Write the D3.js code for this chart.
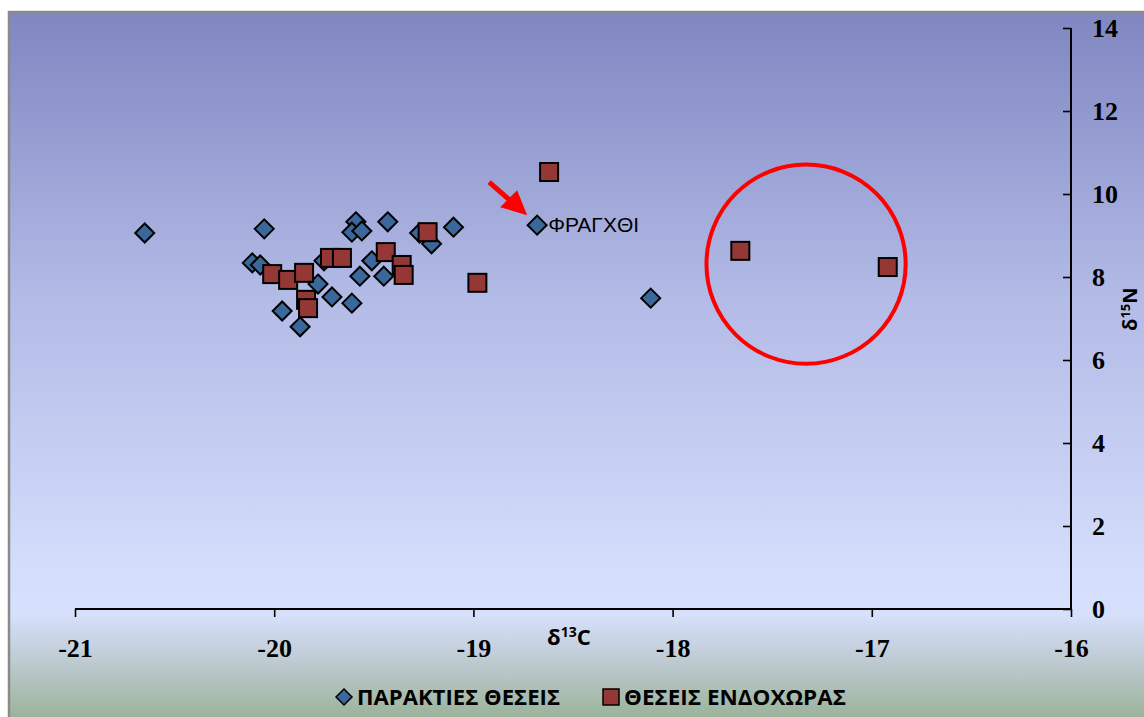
<!DOCTYPE html>
<html>
<head>
<meta charset="utf-8">
<script src="https://cdn.jsdelivr.net/npm/d3@7"></script>
<style>
  body { margin: 0; background: #fff; }
  svg { display: block; }
</style>
</head>
<body>
<div id="chart"></div>
<script>
// data: delta13C (x) and delta15N (y)
var coastalX = [-20.65, -20.05, -20.11, -20.07, -19.96, -19.87, -19.78, -19.75, -19.71, -19.61, -19.59,
                -19.61, -19.56, -19.57, -19.51, -19.45, -19.43, -19.27, -19.21, -19.10, -18.68, -18.11];
var coastalY = [9.06, 9.16, 8.34, 8.29, 7.18, 6.80, 7.83, 8.39, 7.52, 7.37, 9.33,
                9.08, 9.11, 8.02, 8.39, 8.02, 9.33, 9.06, 8.80, 9.20, 9.25, 7.49];
var inlandX = [-20.01, -19.93, -19.85, -19.84, -19.83, -19.72, -19.66, -19.44, -19.36, -19.35,
               -19.23, -18.98, -18.62, -17.66, -16.92];
var inlandY = [8.07, 7.93, 8.10, 7.45, 7.25, 8.46, 8.46, 8.60, 8.29, 8.05,
               9.08, 7.86, 10.53, 8.63, 8.24];
var xTicks = [-21, -20, -19, -18, -17, -16];
var yTicks = [0, 2, 4, 6, 8, 10, 12, 14];
var seriesNames = ["ΠΑΡΑΚΤΙΕΣ ΘΕΣΕΙΣ", "ΘΕΣΕΙΣ ΕΝΔΟΧΩΡΑΣ"];
var labelText = "ΦΡΑΓΧΘΙ";
var labelIndex = 20;          // the coastal point that gets the name + arrow
var circleCenter = [-17.33, 8.31];

var W = 1144, H = 717;
var margin = { top: 28, right: 73, bottom: 108, left: 75 };

var blue = "#3b689b", red = "#953735";

var svg = d3.select("#chart").append("svg")
    .attr("width", W)
    .attr("height", H);

// background gradient (chart area)
var defs = svg.append("defs");
var grad = defs.append("linearGradient")
    .attr("id", "bg").attr("x1", 0).attr("y1", 0).attr("x2", 0).attr("y2", 1);
grad.append("stop").attr("offset", "0").attr("stop-color", "#7f86c1");
grad.append("stop").attr("offset", "0.40").attr("stop-color", "#b2bae6");
grad.append("stop").attr("offset", "0.80").attr("stop-color", "#d5defc");
grad.append("stop").attr("offset", "0.855").attr("stop-color", "#d6e0fb");
grad.append("stop").attr("offset", "0.93").attr("stop-color", "#bac8cc");
grad.append("stop").attr("offset", "1").attr("stop-color", "#9bb39b");

svg.append("rect")
    .attr("x", 9).attr("y", 12)
    .attr("width", W - 9).attr("height", H - 12)
    .attr("fill", "url(#bg)");
svg.append("path")
    .attr("d", "M9," + H + "V12H" + W)
    .attr("fill", "none")
    .attr("stroke", "#8a8a8a")
    .attr("stroke-width", 2.5);

var x = d3.scaleLinear().domain([-21, -16]).range([margin.left, W - margin.right]);
var y = d3.scaleLinear().domain([0, 14]).range([H - margin.bottom, margin.top]);

// x axis
var xAxis = svg.append("g")
    .attr("transform", "translate(0," + y(0) + ")")
    .call(d3.axisBottom(x).tickValues(xTicks).tickSize(8).tickPadding(22).tickFormat(d3.format("d")));
xAxis.select(".domain").attr("d", "M" + x(-21) + ",0H" + x(-16)).attr("stroke-width", 2);
xAxis.selectAll(".tick line").attr("stroke-width", 1.6);
xAxis.selectAll("text")
    .text(function(d) { return String(d).replace("−", "-"); })
    .attr("font-family", "Liberation Serif, serif")
    .attr("font-weight", "bold")
    .attr("font-size", 26)
    .attr("fill", "#000");

// y axis on the right, ticks pointing left, labels outside
var yAxis = svg.append("g")
    .attr("transform", "translate(" + x(-16) + ",0)")
    .call(d3.axisLeft(y).tickValues(yTicks).tickSize(8).tickFormat(d3.format("d")));
yAxis.select(".domain").attr("d", "M0," + y(14) + "V" + y(0)).attr("stroke-width", 2);
yAxis.selectAll(".tick line").attr("stroke-width", 1.6);
yAxis.selectAll("text")
    .attr("x", 21)
    .attr("text-anchor", "start")
    .attr("font-family", "Liberation Serif, serif")
    .attr("font-weight", "bold")
    .attr("font-size", 26)
    .attr("fill", "#000");

// axis titles
var xTitle = svg.append("text")
    .attr("x", 547).attr("y", 645)
    .attr("font-family", "Open Sans, sans-serif")
    .attr("font-weight", "bold")
    .attr("font-size", 22);
xTitle.append("tspan").text("δ");
xTitle.append("tspan").attr("dy", -8).attr("font-size", 14).text("13");
xTitle.append("tspan").attr("dy", 8).text("C");

// y title sits against the right edge (clipped there in the original)
var yTitle = svg.append("text")
    .attr("transform", "translate(1137,331) rotate(-90)")
    .attr("font-family", "Open Sans, sans-serif")
    .attr("font-weight", "bold")
    .attr("font-size", 20);
yTitle.append("tspan").text("δ");
yTitle.append("tspan").attr("dy", -7).attr("font-size", 13).text("15");
yTitle.append("tspan").attr("dy", 7).text("N");

// points
var coastal = coastalX.map(function(v, i) { return { x: v, y: coastalY[i] }; });
var inland = inlandX.map(function(v, i) { return { x: v, y: inlandY[i] }; });

var diamond = "M0,-9.5L9.5,0L0,9.5L-9.5,0Z";
svg.append("g").selectAll("path")
    .data(coastal)
    .enter().append("path")
    .attr("d", diamond)
    .attr("transform", function(d) { return "translate(" + x(d.x) + "," + y(d.y) + ")"; })
    .attr("fill", blue)
    .attr("stroke", "#000")
    .attr("stroke-width", 2);

svg.append("g").selectAll("rect")
    .data(inland)
    .enter().append("rect")
    .attr("x", function(d) { return x(d.x) - 9; })
    .attr("y", function(d) { return y(d.y) - 9; })
    .attr("width", 18).attr("height", 18)
    .attr("fill", red)
    .attr("stroke", "#000")
    .attr("stroke-width", 2);

// annotation: named site + arrow
var px = x(coastal[labelIndex].x), py = y(coastal[labelIndex].y);
svg.append("text")
    .attr("x", px + 11).attr("y", py + 7)
    .attr("font-family", "Liberation Sans, Arial, sans-serif")
    .attr("font-size", 21)
    .attr("fill", "#000")
    .text(labelText);

var tipX = px - 10, tipY = py - 10;
svg.append("line")
    .attr("x1", tipX - 38).attr("y1", tipY - 33)
    .attr("x2", tipX - 6).attr("y2", tipY - 5)
    .attr("stroke", "#ff0000")
    .attr("stroke-width", 5);
svg.append("path")
    .attr("d", "M" + tipX + "," + tipY +
               "L" + (tipX - 27) + "," + (tipY - 8) +
               "L" + (tipX - 10) + "," + (tipY - 25) + "Z")
    .attr("fill", "#ff0000");

// red circle around the two far inland sites
svg.append("circle")
    .attr("cx", x(circleCenter[0]))
    .attr("cy", y(circleCenter[1]))
    .attr("r", x(-16) - x(-16.5))
    .attr("fill", "none")
    .attr("stroke", "#ff0000")
    .attr("stroke-width", 4);

// legend
var leg = svg.append("g").attr("transform", "translate(0,697)");
leg.append("path")
    .attr("d", "M0,-8L8,0L0,8L-8,0Z")
    .attr("transform", "translate(344,0)")
    .attr("fill", blue).attr("stroke", "#000").attr("stroke-width", 1.5);
leg.append("text")
    .attr("x", 357).attr("y", 8)
    .attr("font-family", "Open Sans, sans-serif")
    .attr("font-weight", "bold")
    .attr("font-size", 21)
    .attr("textLength", 203).attr("lengthAdjust", "spacingAndGlyphs")
    .text(seriesNames[0]);
leg.append("rect")
    .attr("x", 603).attr("y", -8).attr("width", 16).attr("height", 16)
    .attr("fill", red).attr("stroke", "#000").attr("stroke-width", 1.5);
leg.append("text")
    .attr("x", 624).attr("y", 8)
    .attr("font-family", "Open Sans, sans-serif")
    .attr("font-weight", "bold")
    .attr("font-size", 21)
    .attr("textLength", 222).attr("lengthAdjust", "spacingAndGlyphs")
    .text(seriesNames[1]);
</script>
</body>
</html>
